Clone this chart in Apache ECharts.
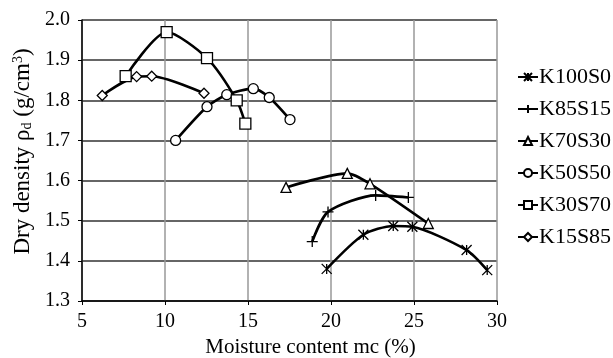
<!DOCTYPE html>
<html>
<head>
<meta charset="utf-8">
<script src="https://cdn.jsdelivr.net/npm/echarts@6/dist/echarts.min.js"></script>
<style>
  html, body { margin: 0; padding: 0; background: #fff; }
  #chart-container { width: 613px; height: 358px; }
</style>
</head>
<body>
<div id="chart-container"></div>
<script>
var seriesNames = ['K100S0', 'K85S15', 'K70S30', 'K50S50', 'K30S70', 'K15S85'];

var k100s0X = [19.74, 21.95, 23.75, 24.9, 28.17, 29.41];
var k100s0Y = [1.38, 1.465, 1.487, 1.485, 1.427, 1.377];
var k85s15X = [18.87, 19.82, 22.69, 24.66];
var k85s15Y = [1.448, 1.522, 1.563, 1.558];
var k70s30X = [17.29, 20.98, 22.35, 25.86];
var k70s30Y = [1.583, 1.618, 1.592, 1.493];
var k50s50X = [10.64, 12.53, 13.72, 15.32, 16.28, 17.53];
var k50s50Y = [1.70, 1.784, 1.814, 1.829, 1.807, 1.752];
var k30s70X = [7.63, 10.1, 12.53, 14.32, 14.84];
var k30s70Y = [1.86, 1.97, 1.905, 1.80, 1.742];
var k15s85X = [6.22, 8.29, 9.2, 12.35];
var k15s85Y = [1.812, 1.859, 1.86, 1.8175];

var xTicks = [5, 10, 15, 20, 25, 30];
var yTicks = [1.3, 1.4, 1.5, 1.6, 1.7, 1.8, 1.9, 2.0];

var dom = document.getElementById('chart-container');
var myChart = echarts.init(dom, null, { renderer: 'canvas' });

var serif = 'Liberation Serif';

function pairs(xs, ys) {
    return xs.map(function (x, i) { return [x, ys[i]]; });
}

var asterisk = 'path://M0 0L10 10M10 0L0 10M5 0L5 10';
var plus = 'path://M5 0L5 10M0 5L10 5';

var markers = [
    { symbol: asterisk, size: 10, fill: 'none' },
    { symbol: plus, size: 11, fill: 'none' },
    { symbol: 'triangle', size: 10, fill: '#fff' },
    { symbol: 'circle', size: 10, fill: '#fff' },
    { symbol: 'rect', size: 11, fill: '#fff' },
    { symbol: 'diamond', size: 10, fill: '#fff' }
];

var dataSets = [
    pairs(k100s0X, k100s0Y),
    pairs(k85s15X, k85s15Y),
    pairs(k70s30X, k70s30Y),
    pairs(k50s50X, k50s50Y),
    pairs(k30s70X, k30s70Y),
    pairs(k15s85X, k15s85Y)
];

var series = seriesNames.map(function (name, i) {
    return {
        name: name,
        type: 'line',
        smooth: 0.25,
        data: dataSets[i],
        symbol: markers[i].symbol,
        symbolSize: markers[i].size,
        lineStyle: { color: '#000', width: 2.6 },
        itemStyle: { color: markers[i].fill, borderColor: '#000', borderWidth: 1.3 },
        z: 3
    };
});

var option = {
    animation: false,
    backgroundColor: '#fff',
    grid: { left: 82, right: 116, top: 20, bottom: 57, outerBoundsMode: 'none' },
    legend: {
        orient: 'vertical',
        left: 512,
        top: 61,
        itemWidth: 20,
        itemHeight: 10,
        itemGap: 10,
        data: seriesNames,
        textStyle: { fontFamily: serif, fontSize: 22, color: '#000', padding: [0, 0, 0, -4] }
    },
    xAxis: {
        type: 'value',
        min: 5,
        max: 30,
        interval: 5,
        name: 'Moisture content mc (%)',
        nameLocation: 'middle',
        nameGap: 36,
        nameTextStyle: { fontFamily: serif, fontSize: 21, color: '#000', padding: [0, 0, 0, 42] },
        axisLine: { lineStyle: { color: '#000', width: 1.5 } },
        axisTick: { show: true, length: 4, lineStyle: { color: '#000' } },
        axisLabel: {
            fontFamily: serif, fontSize: 20, color: '#000', margin: 11,
            formatter: function (v) { return xTicks.indexOf(v) >= 0 ? String(v) : ''; }
        },
        splitLine: { show: true, lineStyle: { color: '#999', width: 1.5 } }
    },
    yAxis: {
        type: 'value',
        min: 1.3,
        max: 2.0,
        interval: 0.1,
        name: '{n|Dry density ρ}{sub|d}{n| (g/cm}{sup|3}{n|)}',
        nameLocation: 'middle',
        nameGap: 41,
        nameTextStyle: {
            fontFamily: serif, fontSize: 23, color: '#000', padding: [0, 0, 0, 18],
            rich: {
                n: { fontFamily: serif, fontSize: 23, color: '#000' },
                sub: { fontFamily: serif, fontSize: 14, color: '#000', verticalAlign: 'bottom', padding: [9, 0, 0, 0] },
                sup: { fontFamily: serif, fontSize: 14, color: '#000', verticalAlign: 'top', padding: [0, 0, 9, 0] }
            }
        },
        axisLine: { show: true, lineStyle: { color: '#000', width: 1.5 } },
        axisTick: { show: true, length: 4, lineStyle: { color: '#000' } },
        axisLabel: {
            fontFamily: serif, fontSize: 20, color: '#000', margin: 12,
            formatter: function (v) {
                var t = yTicks.find(function (y) { return Math.abs(y - v) < 1e-6; });
                return t !== undefined ? t.toFixed(1) : '';
            }
        },
        splitLine: { show: true, lineStyle: { color: '#333', width: 1.5 } }
    },
    series: series
};

if (option && typeof option === 'object') {
    myChart.setOption(option);
}

window.addEventListener('resize', myChart.resize);
</script>
</body>
</html>
